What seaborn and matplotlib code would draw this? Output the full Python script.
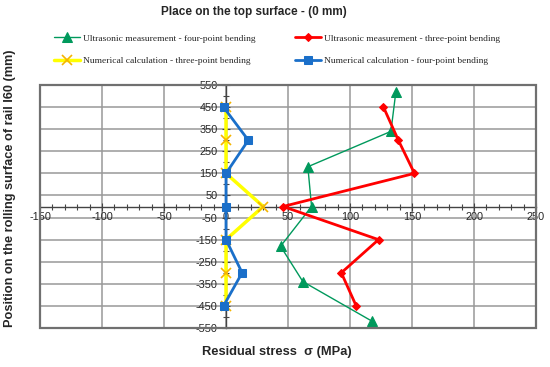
import numpy as np
import matplotlib
matplotlib.use("Agg")
import matplotlib.pyplot as plt
from matplotlib.patches import Rectangle
from matplotlib.ticker import MultipleLocator
import seaborn as sns

# positions on the rail (mm)
pos_us4 = [520, 340, 180, 0, -180, -340, -520]
pos_std = [450, 300, 150, 0, -150, -300, -450]

# residual stress values (MPa)
us_four = [137, 133, 66, 69, 44, 62, 118]
us_three = [127, 139, 152, 46, 123, 93, 105]
num_three = [0, 0, 0, 30, 0, 0, 0]
num_four = [-2, 18, 0, 0, 0, 13, -2]

sns.set_style("white")
plt.rcParams['font.family'] = ['Liberation Sans', 'DejaVu Sans']
plt.rcParams['axes.unicode_minus'] = False

fig = plt.figure(figsize=(5.5, 3.67), dpi=100)
ax = fig.add_axes([40 / 550, 1 - 328 / 367, 496 / 550, 243 / 367])

sns.lineplot(x=us_four, y=pos_us4, sort=False, estimator=None, ax=ax,
             color='#00995c', lw=1.0, marker='^', ms=7, mec='#00995c',
             label='Ultrasonic measurement - four-point bending', zorder=3)
sns.lineplot(x=num_three, y=pos_std, sort=False, estimator=None, ax=ax,
             color='#ffff00', lw=2.5, marker='x', ms=7, mew=1.2, mec='#f5b400',
             label='Numerical calculation - three-point bending', zorder=4)
sns.lineplot(x=us_three, y=pos_std, sort=False, estimator=None, ax=ax,
             color='#ff0000', lw=2.0, marker='D', ms=4.5, mec='#ff0000',
             label='Ultrasonic measurement - three-point bending', zorder=3.5)
sns.lineplot(x=num_four, y=pos_std, sort=False, estimator=None, ax=ax,
             color='#1a6fc9', lw=2.0, marker='s', ms=6, mec='#1a6fc9',
             label='Numerical calculation - four-point bending', zorder=5)

ax.set_xlim(-150, 250)
ax.set_ylim(-550, 550)

# grid
for gx in np.arange(-150, 251, 50):
    ax.axvline(gx, color='#999999', lw=1.1, zorder=0)
for gy in np.arange(-550, 551, 100):
    ax.axhline(gy, color='#999999', lw=1.1, zorder=0)

# axes crossing at zero
ax.spines['left'].set_position(('data', 0))
ax.spines['bottom'].set_position(('data', 0))
ax.spines['top'].set_visible(False)
ax.spines['right'].set_visible(False)
for s in ['left', 'bottom']:
    ax.spines[s].set_color('#444444')
    ax.spines[s].set_linewidth(1.0)
    ax.spines[s].set_zorder(2)

ax.add_patch(Rectangle((0, 0), 1, 1, transform=ax.transAxes, fill=False,
                       ec='#707070', lw=1.6, clip_on=False, zorder=6))

ax.xaxis.set_major_locator(MultipleLocator(50))
ax.xaxis.set_minor_locator(MultipleLocator(10))
ax.set_yticks(np.arange(-550, 551, 100))
ax.yaxis.set_minor_locator(MultipleLocator(50))
ax.tick_params(which='major', direction='inout', length=6, width=0.8,
               color='#444444', labelsize=7.8, pad=1)
ax.tick_params(axis='y', which='major', pad=3)
ax.tick_params(which='minor', direction='inout', length=5, width=0.8,
               color='#444444')
ax.tick_params(axis='x', which='both', bottom=True)
ax.tick_params(axis='y', which='both', left=True)

ax.set_xlabel('')
ax.set_ylabel('')
fig.text(0.503, 1 - 352 / 367, 'Residual stress  σ (MPa)', ha='center',
         va='center', fontsize=9.3, fontweight='bold')
fig.text(0.019, 1 - 188 / 367, 'Position on the rolling surface of rail I60 (mm)',
         ha='center', va='center', rotation=90, fontsize=9.2, fontweight='bold')
fig.text(0.462, 1 - 12 / 367, 'Place on the top surface - (0 mm)', ha='center',
         va='center', fontsize=8.5, fontweight='bold')

ax.legend(loc='upper left', bbox_to_anchor=(54 / 550, 1 - 34 / 367),
          bbox_transform=fig.transFigure, ncol=2, frameon=False,
          prop={'family': 'Liberation Serif', 'size': 6.8},
          handlelength=2.8, handletextpad=0.3, columnspacing=4.1,
          labelspacing=1.5, borderpad=0, borderaxespad=0)

fig.savefig('out.png', dpi=100)
